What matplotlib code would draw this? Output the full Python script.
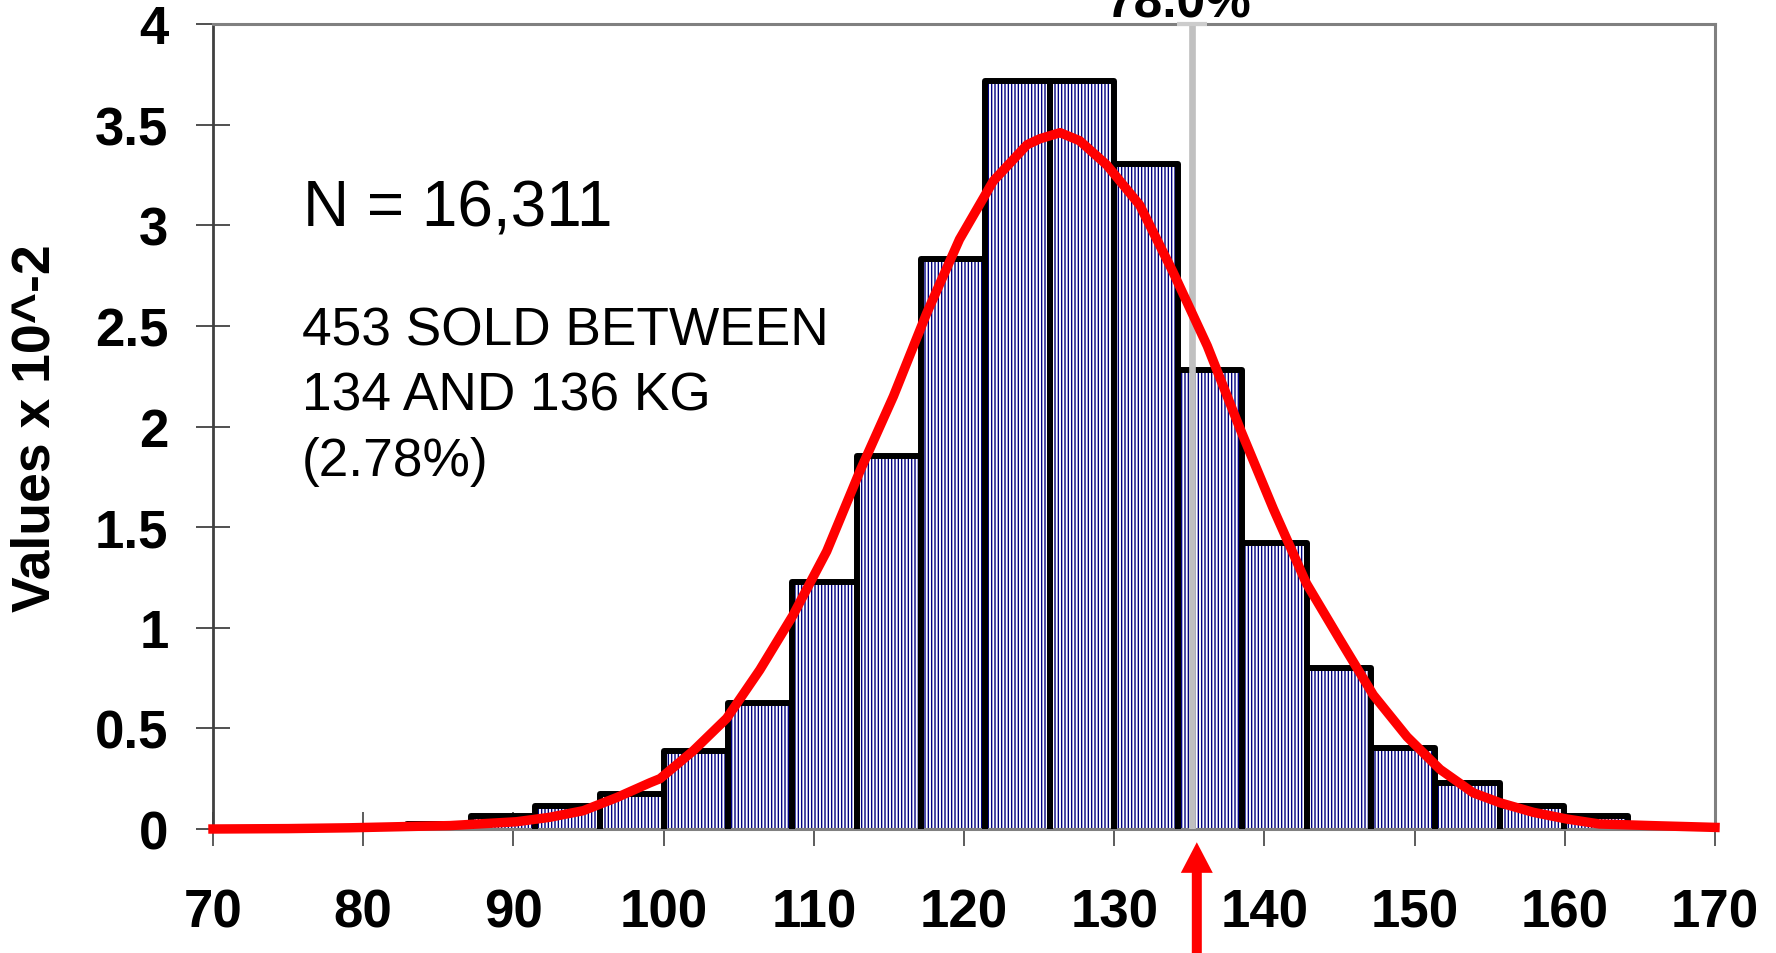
import matplotlib
matplotlib.use("Agg")
import matplotlib.pyplot as plt

plt.rcParams['font.family'] = ['Liberation Sans', 'DejaVu Sans']
plt.rcParams['hatch.linewidth'] = 1.0

# weight classes (kg), left edges; heights are shares x 10^-2
bin_left = [82.9, 87.18, 91.46, 95.74, 100.02, 104.3, 108.58, 112.86, 117.14, 121.42,
            125.7, 129.98, 134.26, 138.54, 142.82, 147.1, 151.38, 155.66, 159.94, 164.22]
bin_width = 4.28
bin_height = [0.026, 0.063, 0.113, 0.175, 0.39, 0.625, 1.225, 1.855, 2.83, 3.715,
              3.715, 3.305, 2.28, 1.42, 0.80, 0.40, 0.23, 0.114, 0.065, 0.017]

# fitted density curve
fit_x = [70, 75, 79.1, 85.8, 90.2, 92.4, 94.65, 96.9, 99.1, 99.76, 101.98, 104.2, 106.4,
         108.6, 110.86, 113.08, 115.3, 117.5, 119.7, 121.95, 124.2, 125.06, 126.4, 127.7,
         129.5, 131.7, 133.9, 136.2, 138.4, 140.6, 142.8, 145.0, 147.25, 149.5, 151.7,
         153.9, 155.7, 157.9, 160.1, 162.3, 165.7, 170]
fit_y = [0.0, 0.002, 0.006, 0.017, 0.036, 0.058, 0.091, 0.157, 0.23, 0.25, 0.389, 0.55, 0.79,
         1.06, 1.38, 1.78, 2.15, 2.56, 2.93, 3.22, 3.40, 3.43, 3.46, 3.42,
         3.30, 3.10, 2.77, 2.40, 1.985, 1.59, 1.22, 0.944, 0.666, 0.458, 0.296,
         0.18, 0.13, 0.083, 0.05, 0.025, 0.017, 0.008]

x_ticks = [70, 80, 90, 100, 110, 120, 130, 140, 150, 160, 170]
y_ticks = [0, 0.5, 1, 1.5, 2, 2.5, 3, 3.5, 4]
y_ticklabels = ["0", "0.5", "1", "1.5", "2", "2.5", "3", "3.5", "4"]

cut_kg = 135.2
cut_label = "78.0%"
arrow_kg = 135.5
notes = ["453 SOLD BETWEEN", "134 AND 136 KG", "(2.78%)"]

fig = plt.figure(figsize=(17.76, 9.54), dpi=100)
ax = fig.add_axes([213 / 1776, 1 - 830 / 954, (1715 - 213) / 1776, (830 - 25) / 954])

base = -0.03
heights = [h - base for h in bin_height]
# hatched fill, then the thick black outlines on top
ax.bar(bin_left, heights, width=bin_width, bottom=base, align='edge',
       facecolor='white', edgecolor='#000080', hatch='|||||', linewidth=0, zorder=2)
ax.bar(bin_left, heights, width=bin_width, bottom=base, align='edge',
       fill=False, edgecolor='black', linewidth=4.3, joinstyle='round', zorder=3)

ax.axvline(cut_kg, color='#c0c0c0', linewidth=4.8, zorder=4)
ax.plot([cut_kg - 1, cut_kg + 1], [4, 4], color='#cccccc', linewidth=3,
        clip_on=False, zorder=6, solid_capstyle='butt')

ax.plot(fit_x, fit_y, color='red', linewidth=6.8, clip_on=False, zorder=5)

ax.set_xlim(70, 170)
ax.set_ylim(0, 4)
ax.set_xticks(x_ticks)
ax.set_yticks(y_ticks)
ax.set_yticklabels(y_ticklabels)
ax.tick_params(axis='both', direction='inout', length=24, width=1.1, labelsize=38)
ax.tick_params(axis='x', pad=30, colors='#303030', labelcolor='black')
ax.tick_params(axis='y', pad=20, colors='#202020', labelcolor='black')
for lab in ax.get_xticklabels() + ax.get_yticklabels():
    lab.set_fontweight('bold')

for side in ['top', 'right', 'bottom']:
    ax.spines[side].set_color('#808080')
    ax.spines[side].set_linewidth(2.2)
ax.spines['left'].set_color('#404040')
ax.spines['left'].set_linewidth(2.0)

ax.text(134.3, 1.009, cut_label, transform=ax.get_xaxis_transform(), ha='center',
        va='baseline', fontsize=37, fontweight='bold', clip_on=False)

ax.text(76.0, 3.0, "N = 16,311", fontsize=46, va='baseline', ha='left')
for i, line in enumerate(notes):
    ax.text(75.9, 2.407 - i * 0.325, line, fontsize=38.3, va='baseline', ha='left')

ax.annotate('', xy=(arrow_kg, -0.0165), xycoords=ax.get_xaxis_transform(),
            xytext=(arrow_kg, -0.16), textcoords=ax.get_xaxis_transform(),
            arrowprops=dict(arrowstyle='simple,head_length=22,head_width=23,tail_width=7.2',
                            mutation_scale=1, fc='red', ec='none', shrinkA=0, shrinkB=0),
            annotation_clip=False)

fig.text(35 / 1776, 1 - 428 / 954, "Values x 10^-2", rotation=90, ha='center', va='center',
         fontsize=38.5, fontweight='bold')

fig.savefig("out.png", dpi=100)
